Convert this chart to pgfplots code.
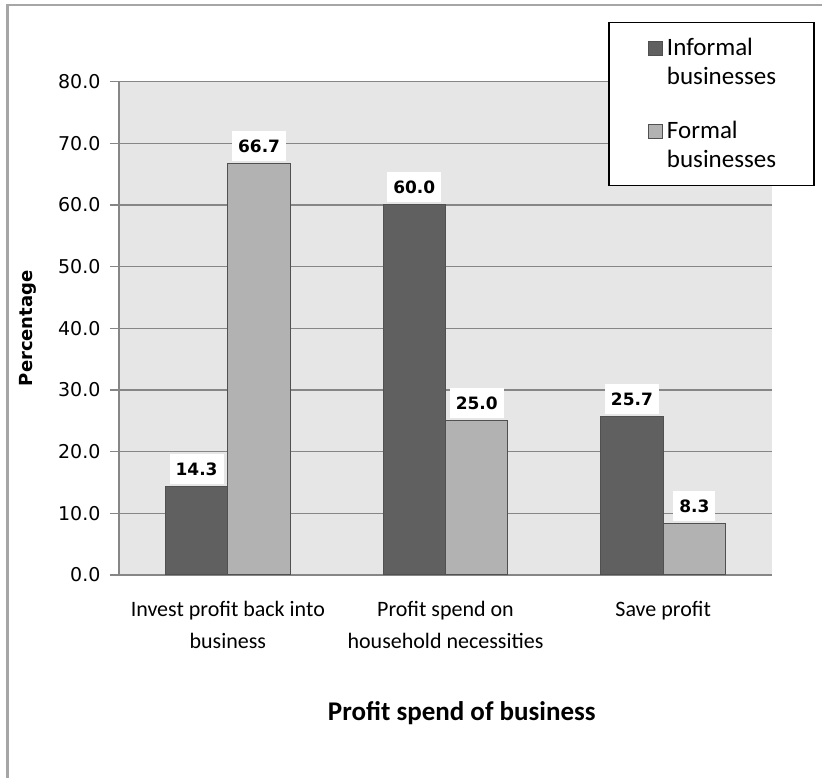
\documentclass[border=0pt]{standalone}
\usepackage{pgfplots}
\pgfplotsset{compat=1.18}
\usepackage{pgfplotstable}
\usepackage{fontspec}
\setmainfont{Carlito}
\newfontfamily\dejavu{DejaVu Sans}

\definecolor{barDark}{RGB}{96,96,96}
\definecolor{barLight}{RGB}{178,178,178}
\definecolor{plotBg}{RGB}{230,230,230}
\definecolor{gridGray}{RGB}{134,134,134}
\definecolor{frameGray}{RGB}{166,166,166}
\definecolor{edgeGray}{RGB}{80,80,80}

% Share of businesses by how profit is used (percent)
\pgfplotstableread{
idx informal formal
0 14.3 66.7
1 60.0 25.0
2 25.7 8.3
}\profitdata

\begin{document}
\begin{tikzpicture}
\useasboundingbox (-119pt,-203pt) rectangle (703pt,575pt);
% chart border
\draw[frameGray, line width=2.5pt] (-111.5pt,-260pt) -- (-111.5pt,570pt) -- (760pt,570pt);
\begin{axis}[
  at={(0pt,0pt)}, anchor=south west,
  scale only axis, width=653pt, height=493.5pt,
  ybar, bar width=0.287,
  xmin=-0.5, xmax=2.5, ymin=0, ymax=80,
  enlargelimits=false,
  axis lines=left,
  axis line style={-, gridGray, line width=1.3pt},
  axis background/.style={fill=plotBg},
  ytick={0,10,...,80},
  ymajorgrids,
  major grid style={gridGray, line width=1.3pt},
  tick align=outside,
  major tick length=9pt,
  minor tick length=9pt,
  ytick style={gridGray, line width=1.3pt},
  xtick={0,1,2},
  xtick style={draw=none},
  minor xtick={-0.5,0.5,1.5,2.5},
  minor x tick style={gridGray, line width=1.3pt},
  xticklabels={{Invest profit back into\\business},{Profit spend on\\household necessities},{Save profit}},
  xticklabel style={align=center, font=\fontsize{22}{32}\selectfont, yshift=-14pt},
  yticklabel style={font=\dejavu\fontsize{19}{21}\selectfont, xshift=-6pt},
  /pgf/number format/fixed,
  /pgf/number format/fixed zerofill,
  /pgf/number format/precision=1,
  /pgf/number format/assume math mode=true,
  xlabel={Profit spend of business},
  xlabel style={at={(axis description cs:0.525,-0.2796)}, anchor=center, font=\bfseries\fontsize{27}{30}\selectfont},
  ylabel={Percentage},
  ylabel style={at={(axis description cs:-0.1394,0.5)}, anchor=center, font=\dejavu\bfseries\fontsize{18}{20}\selectfont},
  nodes near coords,
  every node near coord/.append style={font=\dejavu\bfseries\fontsize{17}{19}\selectfont, fill=white, inner xsep=6pt, inner ysep=0pt, minimum height=30pt, anchor=south, yshift=2pt},
  legend style={at={(rel axis cs:1.0655,1.1206)}, anchor=north east, draw=black, line width=1.3pt, fill=white,
    font=\fontsize{25}{29}\selectfont, cells={align=left}, inner xsep=36pt, inner ysep=14pt, row sep=31pt},
  legend cell align=left,
]
\addplot[fill=barDark, draw=edgeGray, line width=1pt, bar shift=-0.1435,
  legend image code/.code={%
    \path[draw=none, fill=none] (0pt,-21pt) rectangle (20pt,21pt);
    \draw[fill=barDark, draw=edgeGray, line width=0.8pt] (3pt,7.5pt) rectangle (17pt,21.5pt);}]
  table[x=idx, y=informal] {\profitdata};
\addlegendentry{Informal\\businesses}
\addplot[fill=barLight, draw=edgeGray, line width=1pt, bar shift=0.1435,
  legend image code/.code={%
    \path[draw=none, fill=none] (0pt,-21pt) rectangle (20pt,21pt);
    \draw[fill=barLight, draw=edgeGray, line width=0.8pt] (3pt,7.5pt) rectangle (17pt,21.5pt);}]
  table[x=idx, y=formal] {\profitdata};
\addlegendentry{Formal\\businesses}
\end{axis}
\end{tikzpicture}
\end{document}
